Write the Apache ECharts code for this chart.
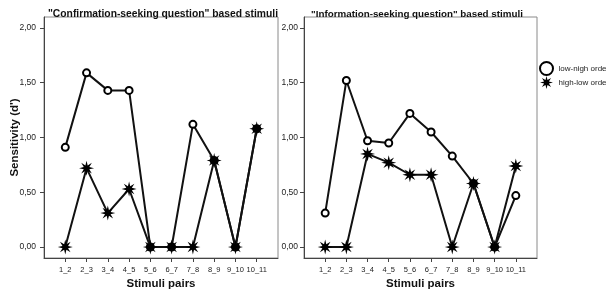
<!DOCTYPE html>
<html>
<head>
<meta charset="utf-8">
<script src="https://cdn.jsdelivr.net/npm/echarts@6/dist/echarts.min.js"></script>
<style>
  html, body { margin: 0; padding: 0; background: #fff; }
  #chart { width: 608px; height: 291px; }
</style>
</head>
<body>
<div id="chart"></div>
<script>
// data
var pairs = ['1_2', '2_3', '3_4', '4_5', '5_6', '6_7', '7_8', '8_9', '9_10', '10_11'];
var confLowHigh = [0.91, 1.59, 1.43, 1.43, 0, 0, 1.12, 0.79, 0, 1.08];
var confHighLow = [0, 0.72, 0.31, 0.53, 0, 0, 0, 0.79, 0, 1.08];
var infoLowHigh = [0.31, 1.52, 0.97, 0.95, 1.22, 1.05, 0.83, 0.58, 0, 0.47];
var infoHighLow = [0, 0, 0.85, 0.77, 0.66, 0.66, 0, 0.58, 0, 0.74];
var yTicks = [0, 0.5, 1, 1.5, 2];
var seriesNames = ['low-nigh orde', 'high-low orde'];
var panelTitles = ['"Confirmation-seeking question" based stimuli', '"Information-seeking question" based stimuli'];

var FONT = '"Liberation Sans", Arial, sans-serif';
var STAR = 'path://M10 0 L11.53 6.3 L17.07 2.93 L13.7 8.47 L20 10 L13.7 11.53 L17.07 17.07 L11.53 13.7 L10 20 L8.47 13.7 L2.93 17.07 L6.3 11.53 L0 10 L6.3 8.47 L2.93 2.93 L8.47 6.3 Z';

var panels = [
  { left: 44, width: 234, labelMargin: 8, titleX: 158, titleSize: 10.3, showName: true, low: confLowHigh, high: confHighLow },
  { left: 304, width: 233, labelMargin: 6, titleX: 412, titleSize: 9.8, showName: false, low: infoLowHigh, high: infoHighLow }
];

function toPoints(values) {
  return values.map(function (v, i) { return [i + 1, v]; });
}
var xTicks = pairs.map(function (c, i) { return i + 1; });

var grids = [], xAxes = [], yAxes = [], titles = [], series = [];

panels.forEach(function (p, k) {
  grids.push({
    left: p.left, top: 17, width: p.width, height: 241,
    outerBoundsMode: 'none',
    containLabel: false,
    show: true, borderColor: '#8a8a8a', borderWidth: 1, backgroundColor: '#fff'
  });
  titles.push({
    text: panelTitles[k],
    left: p.titleX,
    top: 4,
    textAlign: 'center',
    textStyle: { fontFamily: FONT, fontSize: p.titleSize, fontWeight: 'bold', color: '#111' }
  });
  xAxes.push({
    gridIndex: k,
    type: 'value',
    min: 0, max: 11,
    name: 'Stimuli pairs',
    nameLocation: 'middle',
    nameGap: 20,
    nameMoveOverlap: false,
    nameTextStyle: { fontFamily: FONT, fontSize: 11.5, fontWeight: 'bold', color: '#111' },
    axisLine: { onZero: false, lineStyle: { color: '#444', width: 1 } },
    axisTick: { show: true, length: 4, customValues: xTicks, lineStyle: { color: '#444' } },
    axisLabel: {
      customValues: xTicks,
      formatter: function (v) { return pairs[v - 1] || ''; },
      fontFamily: FONT, fontSize: 7.5, color: '#222', margin: 8
    },
    splitLine: { show: false }
  });
  yAxes.push({
    gridIndex: k,
    type: 'value',
    min: -0.1, max: 2.1,
    name: p.showName ? "Sensitivity (d')" : '',
    nameLocation: 'middle',
    nameGap: 23,
    nameMoveOverlap: false,
    nameTextStyle: { fontFamily: FONT, fontSize: 11.5, fontWeight: 'bold', color: '#111' },
    axisLine: { show: true, lineStyle: { color: '#444', width: 1 } },
    axisTick: { show: true, length: 4, customValues: yTicks, lineStyle: { color: '#444' } },
    axisLabel: {
      customValues: yTicks,
      formatter: function (v) { return v.toFixed(2).replace('.', ','); },
      fontFamily: FONT, fontSize: 8.5, color: '#222', margin: p.labelMargin
    },
    splitLine: { show: false }
  });
  series.push({
    name: seriesNames[0],
    type: 'line',
    xAxisIndex: k, yAxisIndex: k,
    data: toPoints(p.low),
    symbol: 'circle',
    symbolSize: 7,
    itemStyle: { color: '#fff', borderColor: '#000', borderWidth: 2 },
    lineStyle: { color: '#111', width: 2 },
    z: 2,
    animation: false
  });
  series.push({
    name: seriesNames[1],
    type: 'line',
    xAxisIndex: k, yAxisIndex: k,
    data: toPoints(p.high),
    symbol: STAR,
    symbolSize: 15,
    itemStyle: { color: '#000', borderColor: '#000', borderWidth: 0 },
    lineStyle: { color: '#111', width: 2 },
    z: 3,
    animation: false
  });
});

var chart = echarts.init(document.getElementById('chart'));
chart.setOption({
  backgroundColor: '#fff',
  animation: false,
  title: titles,
  grid: grids,
  xAxis: xAxes,
  yAxis: yAxes,
  legend: {
    orient: 'vertical',
    left: 534, top: 56,
    padding: [5, 2, 5, 5],
    itemWidth: 14, itemHeight: 13,
    itemGap: 0,
    data: [
      { name: seriesNames[0], icon: 'circle', itemStyle: { color: '#fff', borderColor: '#000', borderWidth: 2 } },
      { name: seriesNames[1], icon: STAR, itemStyle: { color: '#000', borderColor: '#000', borderWidth: 0, opacity: 1 } }
    ],
    textStyle: { fontFamily: FONT, fontSize: 8, color: '#222' }
  },
  series: series
});
</script>
</body>
</html>
